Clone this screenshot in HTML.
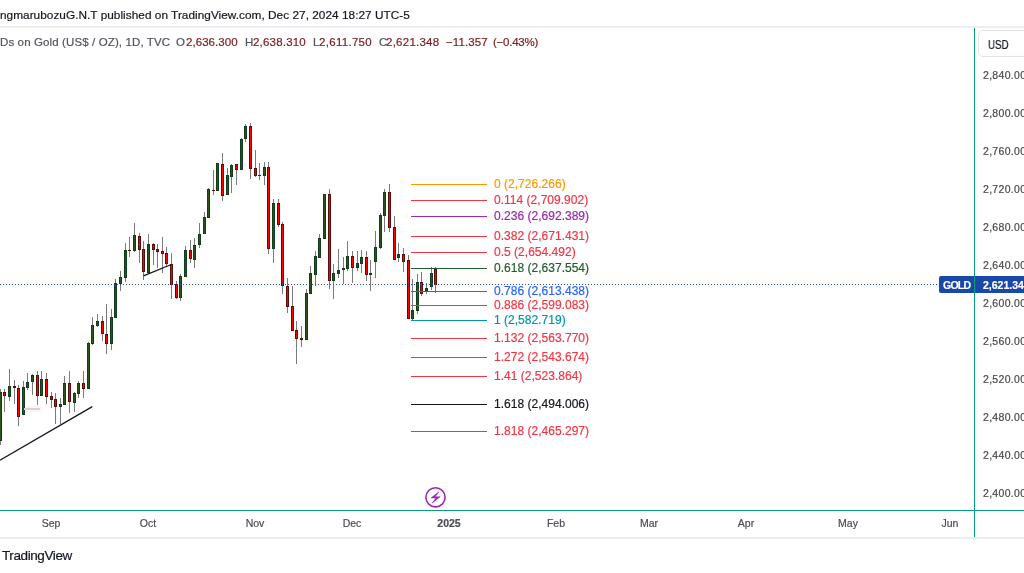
<!DOCTYPE html>
<html><head><meta charset="utf-8">
<style>
html,body{margin:0;padding:0;background:#fff;}
body{width:1024px;height:573px;overflow:hidden;position:relative;font-family:"Liberation Sans",sans-serif;}
.t{position:absolute;white-space:nowrap;line-height:1;}
.t,.ax,.tm,.fl{will-change:transform;-webkit-text-stroke:0.2px currentColor;}
#hdr{left:0px;top:9.5px;font-size:11.8px;color:#131722;letter-spacing:0.035px;}
.lg{top:36.6px;font-size:11.5px;color:#50535e;}
.lg.v{color:#7a1b1b;}
.ax{position:absolute;left:983px;font-size:10.5px;color:#4a4a4a;line-height:1;letter-spacing:0.3px;}
.tm{position:absolute;top:518px;font-size:10.5px;color:#4a4d57;line-height:1;transform:translateX(-50%);}
.fl{position:absolute;left:494.3px;font-size:12px;letter-spacing:0.02px;line-height:1;white-space:nowrap;}
#usd{position:absolute;left:978px;top:30px;width:60px;height:27px;border:1px solid #e0e3eb;border-radius:5px;box-sizing:border-box;}
#usdt{left:987.5px;top:39px;font-size:12.2px;color:#131722;transform:scaleX(0.8);transform-origin:0 0;}
#gold{position:absolute;left:939px;top:276px;width:100px;height:17px;background:#1848a8;border-radius:2px;}
#goldt{left:943px;top:280px;font-size:10.5px;font-weight:bold;color:#fff;letter-spacing:-0.75px;}
#goldp{left:983px;top:280px;font-size:10.5px;font-weight:bold;color:#fff;}
#tv{left:2px;top:549px;font-size:13.5px;color:#131722;letter-spacing:-0.4px;}
</style></head><body>
<div class="t" id="hdr">ngmarubozuG.N.T published on TradingView.com, Dec 27, 2024 18:27 UTC-5</div>
<div class="t lg" style="left:0px;letter-spacing:0.12px">Ds on Gold (US$ / OZ), 1D, TVC</div>
<div class="t lg" style="left:176px">O</div>
<div class="t lg v" style="left:185.5px;letter-spacing:0.05px">2,636.300</div>
<div class="t lg" style="left:245px">H</div>
<div class="t lg v" style="left:253px;letter-spacing:0.2px">2,638.310</div>
<div class="t lg" style="left:313px">L</div>
<div class="t lg v" style="left:319px;letter-spacing:0.3px">2,611.750</div>
<div class="t lg" style="left:379px">C</div>
<div class="t lg v" style="left:385.5px;letter-spacing:0.25px">2,621.348</div>
<div class="t lg v" style="left:446.3px;letter-spacing:0.1px">−11.357</div>
<div class="t lg v" style="left:492.5px;letter-spacing:-0.25px">(−0.43%)</div>
<svg width="1024" height="573" style="position:absolute;left:0;top:0" shape-rendering="crispEdges">
<rect x="0" y="26" width="1024" height="2" fill="#edeef3"/>
<rect x="0" y="537" width="1024" height="2" fill="#edeef3"/>
<rect x="974" y="28" width="1" height="509" fill="#089981"/>
<rect x="0" y="510" width="1024" height="1" fill="#089981"/>
<!-- CANDLES -->
<rect x="0" y="389" width="1" height="56" fill="#7b7b7b"/>
<rect x="-1" y="392" width="3" height="49" fill="#123d1c"/>
<rect x="0" y="393" width="1" height="47" fill="#2a5418"/>
<rect x="4" y="389" width="1" height="23" fill="#7b7b7b"/>
<rect x="3" y="392" width="3" height="4" fill="#5d0b0b"/>
<rect x="4" y="393" width="1" height="2" fill="#ff0000"/>
<rect x="9" y="369" width="1" height="32" fill="#7b7b7b"/>
<rect x="8" y="386" width="3" height="11" fill="#123d1c"/>
<rect x="9" y="387" width="1" height="9" fill="#2a5418"/>
<rect x="14" y="380" width="1" height="24" fill="#7b7b7b"/>
<rect x="13" y="386" width="3" height="2" fill="#5d0b0b"/>
<rect x="18" y="385" width="1" height="41" fill="#7b7b7b"/>
<rect x="17" y="388" width="3" height="29" fill="#5d0b0b"/>
<rect x="18" y="389" width="1" height="27" fill="#ff0000"/>
<rect x="23" y="381" width="1" height="34" fill="#7b7b7b"/>
<rect x="22" y="387" width="3" height="28" fill="#123d1c"/>
<rect x="23" y="388" width="1" height="26" fill="#2a5418"/>
<rect x="27" y="373" width="1" height="17" fill="#7b7b7b"/>
<rect x="26" y="382" width="3" height="6" fill="#123d1c"/>
<rect x="27" y="383" width="1" height="4" fill="#2a5418"/>
<rect x="32" y="374" width="1" height="21" fill="#7b7b7b"/>
<rect x="31" y="375" width="3" height="7" fill="#123d1c"/>
<rect x="32" y="376" width="1" height="5" fill="#2a5418"/>
<rect x="37" y="371" width="1" height="34" fill="#7b7b7b"/>
<rect x="36" y="375" width="3" height="21" fill="#5d0b0b"/>
<rect x="37" y="376" width="1" height="19" fill="#ff0000"/>
<rect x="41" y="371" width="1" height="25" fill="#7b7b7b"/>
<rect x="40" y="379" width="3" height="17" fill="#123d1c"/>
<rect x="41" y="380" width="1" height="15" fill="#2a5418"/>
<rect x="46" y="373" width="1" height="31" fill="#7b7b7b"/>
<rect x="45" y="379" width="3" height="18" fill="#5d0b0b"/>
<rect x="46" y="380" width="1" height="16" fill="#ff0000"/>
<rect x="51" y="392" width="1" height="16" fill="#7b7b7b"/>
<rect x="50" y="396" width="3" height="4" fill="#5d0b0b"/>
<rect x="51" y="397" width="1" height="2" fill="#ff0000"/>
<rect x="55" y="393" width="1" height="31" fill="#7b7b7b"/>
<rect x="54" y="399" width="3" height="8" fill="#5d0b0b"/>
<rect x="55" y="400" width="1" height="6" fill="#ff0000"/>
<rect x="60" y="398" width="1" height="26" fill="#7b7b7b"/>
<rect x="59" y="404" width="3" height="3" fill="#123d1c"/>
<rect x="60" y="405" width="1" height="1" fill="#2a5418"/>
<rect x="64" y="376" width="1" height="29" fill="#7b7b7b"/>
<rect x="63" y="383" width="3" height="22" fill="#123d1c"/>
<rect x="64" y="384" width="1" height="20" fill="#2a5418"/>
<rect x="69" y="371" width="1" height="42" fill="#7b7b7b"/>
<rect x="68" y="383" width="3" height="19" fill="#5d0b0b"/>
<rect x="69" y="384" width="1" height="17" fill="#ff0000"/>
<rect x="74" y="392" width="1" height="20" fill="#7b7b7b"/>
<rect x="73" y="393" width="3" height="10" fill="#123d1c"/>
<rect x="74" y="394" width="1" height="8" fill="#2a5418"/>
<rect x="78" y="381" width="1" height="17" fill="#7b7b7b"/>
<rect x="77" y="383" width="3" height="11" fill="#123d1c"/>
<rect x="78" y="384" width="1" height="9" fill="#2a5418"/>
<rect x="83" y="371" width="1" height="27" fill="#7b7b7b"/>
<rect x="82" y="383" width="3" height="6" fill="#5d0b0b"/>
<rect x="83" y="384" width="1" height="4" fill="#ff0000"/>
<rect x="88" y="342" width="1" height="47" fill="#7b7b7b"/>
<rect x="87" y="343" width="3" height="46" fill="#123d1c"/>
<rect x="88" y="344" width="1" height="44" fill="#2a5418"/>
<rect x="92" y="317" width="1" height="28" fill="#7b7b7b"/>
<rect x="91" y="325" width="3" height="19" fill="#123d1c"/>
<rect x="92" y="326" width="1" height="17" fill="#2a5418"/>
<rect x="97" y="314" width="1" height="13" fill="#7b7b7b"/>
<rect x="96" y="321" width="3" height="5" fill="#123d1c"/>
<rect x="97" y="322" width="1" height="3" fill="#2a5418"/>
<rect x="102" y="316" width="1" height="25" fill="#7b7b7b"/>
<rect x="101" y="321" width="3" height="13" fill="#5d0b0b"/>
<rect x="102" y="322" width="1" height="11" fill="#ff0000"/>
<rect x="106" y="304" width="1" height="50" fill="#7b7b7b"/>
<rect x="105" y="334" width="3" height="10" fill="#5d0b0b"/>
<rect x="106" y="335" width="1" height="8" fill="#ff0000"/>
<rect x="111" y="309" width="1" height="41" fill="#7b7b7b"/>
<rect x="110" y="317" width="3" height="27" fill="#123d1c"/>
<rect x="111" y="318" width="1" height="25" fill="#2a5418"/>
<rect x="115" y="279" width="1" height="39" fill="#7b7b7b"/>
<rect x="114" y="283" width="3" height="35" fill="#123d1c"/>
<rect x="115" y="284" width="1" height="33" fill="#2a5418"/>
<rect x="120" y="271" width="1" height="20" fill="#7b7b7b"/>
<rect x="119" y="277" width="3" height="7" fill="#123d1c"/>
<rect x="120" y="278" width="1" height="5" fill="#2a5418"/>
<rect x="125" y="243" width="1" height="39" fill="#7b7b7b"/>
<rect x="124" y="250" width="3" height="28" fill="#123d1c"/>
<rect x="125" y="251" width="1" height="26" fill="#2a5418"/>
<rect x="129" y="237" width="1" height="20" fill="#7b7b7b"/>
<rect x="128" y="250" width="3" height="1" fill="#5d0b0b"/>
<rect x="134" y="223" width="1" height="29" fill="#7b7b7b"/>
<rect x="133" y="235" width="3" height="16" fill="#123d1c"/>
<rect x="134" y="236" width="1" height="14" fill="#2a5418"/>
<rect x="139" y="233" width="1" height="30" fill="#7b7b7b"/>
<rect x="138" y="236" width="3" height="14" fill="#5d0b0b"/>
<rect x="139" y="237" width="1" height="12" fill="#ff0000"/>
<rect x="143" y="241" width="1" height="39" fill="#7b7b7b"/>
<rect x="142" y="249" width="3" height="23" fill="#5d0b0b"/>
<rect x="143" y="250" width="1" height="21" fill="#ff0000"/>
<rect x="148" y="234" width="1" height="39" fill="#7b7b7b"/>
<rect x="147" y="244" width="3" height="29" fill="#123d1c"/>
<rect x="148" y="245" width="1" height="27" fill="#2a5418"/>
<rect x="153" y="243" width="1" height="22" fill="#7b7b7b"/>
<rect x="152" y="244" width="3" height="6" fill="#5d0b0b"/>
<rect x="153" y="245" width="1" height="4" fill="#ff0000"/>
<rect x="157" y="244" width="1" height="24" fill="#7b7b7b"/>
<rect x="156" y="249" width="3" height="3" fill="#5d0b0b"/>
<rect x="157" y="250" width="1" height="1" fill="#ff0000"/>
<rect x="162" y="237" width="1" height="36" fill="#7b7b7b"/>
<rect x="161" y="251" width="3" height="3" fill="#5d0b0b"/>
<rect x="162" y="252" width="1" height="1" fill="#ff0000"/>
<rect x="166" y="247" width="1" height="19" fill="#7b7b7b"/>
<rect x="165" y="253" width="3" height="11" fill="#5d0b0b"/>
<rect x="166" y="254" width="1" height="9" fill="#ff0000"/>
<rect x="171" y="253" width="1" height="46" fill="#7b7b7b"/>
<rect x="170" y="264" width="3" height="21" fill="#5d0b0b"/>
<rect x="171" y="265" width="1" height="19" fill="#ff0000"/>
<rect x="176" y="281" width="1" height="18" fill="#7b7b7b"/>
<rect x="175" y="284" width="3" height="14" fill="#5d0b0b"/>
<rect x="176" y="285" width="1" height="12" fill="#ff0000"/>
<rect x="180" y="274" width="1" height="27" fill="#7b7b7b"/>
<rect x="179" y="276" width="3" height="22" fill="#123d1c"/>
<rect x="180" y="277" width="1" height="20" fill="#2a5418"/>
<rect x="185" y="246" width="1" height="31" fill="#7b7b7b"/>
<rect x="184" y="250" width="3" height="27" fill="#123d1c"/>
<rect x="185" y="251" width="1" height="25" fill="#2a5418"/>
<rect x="190" y="240" width="1" height="23" fill="#7b7b7b"/>
<rect x="189" y="250" width="3" height="9" fill="#5d0b0b"/>
<rect x="190" y="251" width="1" height="7" fill="#ff0000"/>
<rect x="194" y="238" width="1" height="30" fill="#7b7b7b"/>
<rect x="193" y="245" width="3" height="15" fill="#123d1c"/>
<rect x="194" y="246" width="1" height="13" fill="#2a5418"/>
<rect x="199" y="223" width="1" height="25" fill="#7b7b7b"/>
<rect x="198" y="234" width="3" height="11" fill="#123d1c"/>
<rect x="199" y="235" width="1" height="9" fill="#2a5418"/>
<rect x="204" y="212" width="1" height="22" fill="#7b7b7b"/>
<rect x="203" y="217" width="3" height="17" fill="#123d1c"/>
<rect x="204" y="218" width="1" height="15" fill="#2a5418"/>
<rect x="208" y="188" width="1" height="30" fill="#7b7b7b"/>
<rect x="207" y="189" width="3" height="29" fill="#123d1c"/>
<rect x="208" y="190" width="1" height="27" fill="#2a5418"/>
<rect x="213" y="170" width="1" height="25" fill="#7b7b7b"/>
<rect x="212" y="190" width="3" height="1" fill="#5d0b0b"/>
<rect x="217" y="163" width="1" height="28" fill="#7b7b7b"/>
<rect x="216" y="163" width="3" height="28" fill="#123d1c"/>
<rect x="217" y="164" width="1" height="26" fill="#2a5418"/>
<rect x="222" y="153" width="1" height="48" fill="#7b7b7b"/>
<rect x="221" y="164" width="3" height="32" fill="#5d0b0b"/>
<rect x="222" y="165" width="1" height="30" fill="#ff0000"/>
<rect x="227" y="168" width="1" height="27" fill="#7b7b7b"/>
<rect x="226" y="175" width="3" height="20" fill="#123d1c"/>
<rect x="227" y="176" width="1" height="18" fill="#2a5418"/>
<rect x="231" y="164" width="1" height="29" fill="#7b7b7b"/>
<rect x="230" y="165" width="3" height="12" fill="#123d1c"/>
<rect x="231" y="166" width="1" height="10" fill="#2a5418"/>
<rect x="236" y="164" width="1" height="21" fill="#7b7b7b"/>
<rect x="235" y="164" width="3" height="6" fill="#5d0b0b"/>
<rect x="236" y="165" width="1" height="4" fill="#ff0000"/>
<rect x="241" y="138" width="1" height="32" fill="#7b7b7b"/>
<rect x="240" y="139" width="3" height="31" fill="#123d1c"/>
<rect x="241" y="140" width="1" height="29" fill="#2a5418"/>
<rect x="245" y="124" width="1" height="18" fill="#7b7b7b"/>
<rect x="244" y="126" width="3" height="13" fill="#123d1c"/>
<rect x="245" y="127" width="1" height="11" fill="#2a5418"/>
<rect x="250" y="123" width="1" height="56" fill="#7b7b7b"/>
<rect x="249" y="126" width="3" height="43" fill="#5d0b0b"/>
<rect x="250" y="127" width="1" height="41" fill="#ff0000"/>
<rect x="255" y="150" width="1" height="27" fill="#7b7b7b"/>
<rect x="254" y="168" width="3" height="8" fill="#5d0b0b"/>
<rect x="255" y="169" width="1" height="6" fill="#ff0000"/>
<rect x="259" y="163" width="1" height="17" fill="#7b7b7b"/>
<rect x="258" y="175" width="3" height="1" fill="#5d0b0b"/>
<rect x="264" y="162" width="1" height="23" fill="#7b7b7b"/>
<rect x="263" y="167" width="3" height="9" fill="#123d1c"/>
<rect x="264" y="168" width="1" height="7" fill="#2a5418"/>
<rect x="268" y="162" width="1" height="92" fill="#7b7b7b"/>
<rect x="267" y="167" width="3" height="82" fill="#5d0b0b"/>
<rect x="268" y="168" width="1" height="80" fill="#ff0000"/>
<rect x="273" y="199" width="1" height="64" fill="#7b7b7b"/>
<rect x="272" y="203" width="3" height="46" fill="#123d1c"/>
<rect x="273" y="204" width="1" height="44" fill="#2a5418"/>
<rect x="278" y="199" width="1" height="28" fill="#7b7b7b"/>
<rect x="277" y="203" width="3" height="22" fill="#5d0b0b"/>
<rect x="278" y="204" width="1" height="20" fill="#ff0000"/>
<rect x="282" y="222" width="1" height="72" fill="#7b7b7b"/>
<rect x="281" y="224" width="3" height="62" fill="#5d0b0b"/>
<rect x="282" y="225" width="1" height="60" fill="#ff0000"/>
<rect x="287" y="278" width="1" height="35" fill="#7b7b7b"/>
<rect x="286" y="286" width="3" height="21" fill="#5d0b0b"/>
<rect x="287" y="287" width="1" height="19" fill="#ff0000"/>
<rect x="292" y="286" width="1" height="45" fill="#7b7b7b"/>
<rect x="291" y="306" width="3" height="25" fill="#5d0b0b"/>
<rect x="292" y="307" width="1" height="23" fill="#ff0000"/>
<rect x="296" y="321" width="1" height="43" fill="#7b7b7b"/>
<rect x="295" y="330" width="3" height="9" fill="#5d0b0b"/>
<rect x="296" y="331" width="1" height="7" fill="#ff0000"/>
<rect x="301" y="326" width="1" height="21" fill="#7b7b7b"/>
<rect x="300" y="338" width="3" height="2" fill="#5d0b0b"/>
<rect x="306" y="289" width="1" height="51" fill="#7b7b7b"/>
<rect x="305" y="293" width="3" height="47" fill="#123d1c"/>
<rect x="306" y="294" width="1" height="45" fill="#2a5418"/>
<rect x="310" y="266" width="1" height="28" fill="#7b7b7b"/>
<rect x="309" y="273" width="3" height="21" fill="#123d1c"/>
<rect x="310" y="274" width="1" height="19" fill="#2a5418"/>
<rect x="315" y="251" width="1" height="35" fill="#7b7b7b"/>
<rect x="314" y="256" width="3" height="19" fill="#123d1c"/>
<rect x="315" y="257" width="1" height="17" fill="#2a5418"/>
<rect x="319" y="234" width="1" height="24" fill="#7b7b7b"/>
<rect x="318" y="238" width="3" height="20" fill="#123d1c"/>
<rect x="319" y="239" width="1" height="18" fill="#2a5418"/>
<rect x="324" y="194" width="1" height="45" fill="#7b7b7b"/>
<rect x="323" y="194" width="3" height="45" fill="#123d1c"/>
<rect x="324" y="195" width="1" height="43" fill="#2a5418"/>
<rect x="329" y="189" width="1" height="100" fill="#7b7b7b"/>
<rect x="328" y="194" width="3" height="87" fill="#5d0b0b"/>
<rect x="329" y="195" width="1" height="85" fill="#ff0000"/>
<rect x="333" y="264" width="1" height="35" fill="#7b7b7b"/>
<rect x="332" y="273" width="3" height="8" fill="#123d1c"/>
<rect x="333" y="274" width="1" height="6" fill="#2a5418"/>
<rect x="338" y="249" width="1" height="29" fill="#7b7b7b"/>
<rect x="337" y="270" width="3" height="4" fill="#123d1c"/>
<rect x="338" y="271" width="1" height="2" fill="#2a5418"/>
<rect x="343" y="257" width="1" height="27" fill="#7b7b7b"/>
<rect x="342" y="268" width="3" height="2" fill="#123d1c"/>
<rect x="347" y="241" width="1" height="30" fill="#7b7b7b"/>
<rect x="346" y="256" width="3" height="13" fill="#123d1c"/>
<rect x="347" y="257" width="1" height="11" fill="#2a5418"/>
<rect x="352" y="251" width="1" height="32" fill="#7b7b7b"/>
<rect x="351" y="256" width="3" height="12" fill="#5d0b0b"/>
<rect x="352" y="257" width="1" height="10" fill="#ff0000"/>
<rect x="357" y="251" width="1" height="20" fill="#7b7b7b"/>
<rect x="356" y="263" width="3" height="5" fill="#123d1c"/>
<rect x="357" y="264" width="1" height="3" fill="#2a5418"/>
<rect x="361" y="250" width="1" height="23" fill="#7b7b7b"/>
<rect x="360" y="257" width="3" height="7" fill="#123d1c"/>
<rect x="361" y="258" width="1" height="5" fill="#2a5418"/>
<rect x="366" y="251" width="1" height="30" fill="#7b7b7b"/>
<rect x="365" y="257" width="3" height="18" fill="#5d0b0b"/>
<rect x="366" y="258" width="1" height="16" fill="#ff0000"/>
<rect x="370" y="260" width="1" height="31" fill="#7b7b7b"/>
<rect x="369" y="273" width="3" height="2" fill="#123d1c"/>
<rect x="375" y="231" width="1" height="47" fill="#7b7b7b"/>
<rect x="374" y="247" width="3" height="15" fill="#123d1c"/>
<rect x="375" y="248" width="1" height="13" fill="#2a5418"/>
<rect x="380" y="213" width="1" height="36" fill="#7b7b7b"/>
<rect x="379" y="215" width="3" height="33" fill="#123d1c"/>
<rect x="380" y="216" width="1" height="31" fill="#2a5418"/>
<rect x="384" y="189" width="1" height="43" fill="#7b7b7b"/>
<rect x="383" y="192" width="3" height="24" fill="#123d1c"/>
<rect x="384" y="193" width="1" height="22" fill="#2a5418"/>
<rect x="389" y="184" width="1" height="48" fill="#7b7b7b"/>
<rect x="388" y="192" width="3" height="36" fill="#5d0b0b"/>
<rect x="389" y="193" width="1" height="34" fill="#ff0000"/>
<rect x="394" y="216" width="1" height="44" fill="#7b7b7b"/>
<rect x="393" y="227" width="3" height="33" fill="#5d0b0b"/>
<rect x="394" y="228" width="1" height="31" fill="#ff0000"/>
<rect x="398" y="243" width="1" height="19" fill="#7b7b7b"/>
<rect x="397" y="254" width="3" height="4" fill="#123d1c"/>
<rect x="398" y="255" width="1" height="2" fill="#2a5418"/>
<rect x="403" y="248" width="1" height="24" fill="#7b7b7b"/>
<rect x="402" y="254" width="3" height="8" fill="#5d0b0b"/>
<rect x="403" y="255" width="1" height="6" fill="#ff0000"/>
<rect x="408" y="255" width="1" height="64" fill="#7b7b7b"/>
<rect x="407" y="260" width="3" height="59" fill="#5d0b0b"/>
<rect x="408" y="261" width="1" height="57" fill="#ff0000"/>
<rect x="412" y="279" width="1" height="41" fill="#7b7b7b"/>
<rect x="411" y="310" width="3" height="9" fill="#123d1c"/>
<rect x="412" y="311" width="1" height="7" fill="#2a5418"/>
<rect x="417" y="274" width="1" height="40" fill="#7b7b7b"/>
<rect x="416" y="282" width="3" height="29" fill="#123d1c"/>
<rect x="417" y="283" width="1" height="27" fill="#2a5418"/>
<rect x="421" y="272" width="1" height="24" fill="#7b7b7b"/>
<rect x="420" y="282" width="3" height="12" fill="#5d0b0b"/>
<rect x="421" y="283" width="1" height="10" fill="#ff0000"/>
<rect x="426" y="283" width="1" height="11" fill="#7b7b7b"/>
<rect x="425" y="288" width="3" height="3" fill="#123d1c"/>
<rect x="426" y="289" width="1" height="1" fill="#2a5418"/>
<rect x="431" y="267" width="1" height="23" fill="#7b7b7b"/>
<rect x="430" y="273" width="3" height="14" fill="#123d1c"/>
<rect x="431" y="274" width="1" height="12" fill="#2a5418"/>
<rect x="435" y="267" width="1" height="26" fill="#7b7b7b"/>
<rect x="434" y="269" width="3" height="16" fill="#5d0b0b"/>
<rect x="435" y="270" width="1" height="14" fill="#ff0000"/>
<!-- misc drawing -->
<rect x="26" y="406" width="16" height="6" fill="#fff3f5"/>
<rect x="24" y="408" width="16" height="2" fill="#d1d4dc"/>
<!-- fib lines -->
<rect x="411" y="184" width="76" height="1" fill="#ff9800"/>
<rect x="411" y="200" width="76" height="1" fill="#f23645"/>
<rect x="411" y="216" width="76" height="1" fill="#9c27b0"/>
<rect x="411" y="236" width="76" height="1" fill="#f23645"/>
<rect x="411" y="252" width="76" height="1" fill="#f23645"/>
<rect x="411" y="268" width="76" height="1" fill="#1e5e2a"/>
<rect x="411" y="291" width="76" height="1" fill="#2962ff"/>
<rect x="411" y="305" width="76" height="1" fill="#f23645"/>
<rect x="411" y="320" width="76" height="1" fill="#0097a7"/>
<rect x="411" y="338" width="76" height="1" fill="#f23645"/>
<rect x="411" y="357" width="76" height="1" fill="#f23645"/>
<rect x="411" y="376" width="76" height="1" fill="#f23645"/>
<rect x="411" y="404" width="76" height="1" fill="#131722"/>
<rect x="411" y="431" width="76" height="1" fill="#f23645"/>
<line x1="0" y1="284.5" x2="939" y2="284.5" stroke="#1c4fd6" stroke-width="1" stroke-dasharray="1 2"/>
<g shape-rendering="geometricPrecision">
<line x1="0" y1="460.3" x2="92.3" y2="406.6" stroke="#131722" stroke-width="1.3"/>
<line x1="143.4" y1="275.9" x2="171.4" y2="264.5" stroke="#131722" stroke-width="1.3"/>
<circle cx="435.5" cy="497.3" r="9.6" fill="#fff" stroke="#9c27b0" stroke-width="1.6"/>
<path d="M439 491.8 L430.8 498 L435.8 498 L432 503.2 L440.2 496.8 L435.2 496.8 Z" fill="#9c27b0" stroke="#9c27b0" stroke-width="0.5" stroke-linejoin="round"/>
</g>
</svg>
<div id="usd"></div>
<div class="t" id="usdt">USD</div>
<div id="gold"></div>
<svg width="1024" height="573" style="position:absolute;left:0;top:0" shape-rendering="crispEdges"><rect x="974" y="276" width="1" height="17" fill="#089981"/></svg>
<div class="t" id="goldt">GOLD</div>
<div class="t" id="goldp">2,621.348</div>
<div class="ax" style="top:70px">2,840.000</div>
<div class="ax" style="top:108px">2,800.000</div>
<div class="ax" style="top:146px">2,760.000</div>
<div class="ax" style="top:184px">2,720.000</div>
<div class="ax" style="top:222px">2,680.000</div>
<div class="ax" style="top:260px">2,640.000</div>
<div class="ax" style="top:298px">2,600.000</div>
<div class="ax" style="top:336px">2,560.000</div>
<div class="ax" style="top:374px">2,520.000</div>
<div class="ax" style="top:412px">2,480.000</div>
<div class="ax" style="top:450px">2,440.000</div>
<div class="ax" style="top:488px">2,400.000</div>
<div class="tm" style="left:50.5px">Sep</div>
<div class="tm" style="left:148px">Oct</div>
<div class="tm" style="left:255px">Nov</div>
<div class="tm" style="left:352px">Dec</div>
<div class="tm" style="left:449px;font-weight:bold">2025</div>
<div class="tm" style="left:556px">Feb</div>
<div class="tm" style="left:649px">Mar</div>
<div class="tm" style="left:746px">Apr</div>
<div class="tm" style="left:848px">May</div>
<div class="tm" style="left:950px">Jun</div>
<div class="fl" style="top:178px;color:#ff9800">0 (2,726.266)</div>
<div class="fl" style="top:194px;color:#f23645">0.114 (2,709.902)</div>
<div class="fl" style="top:210px;color:#9c27b0">0.236 (2,692.389)</div>
<div class="fl" style="top:230px;color:#f23645">0.382 (2,671.431)</div>
<div class="fl" style="top:246px;color:#f23645">0.5 (2,654.492)</div>
<div class="fl" style="top:262px;color:#1e5e2a">0.618 (2,637.554)</div>
<div class="fl" style="top:285px;color:#2962ff">0.786 (2,613.438)</div>
<div class="fl" style="top:299px;color:#f23645">0.886 (2,599.083)</div>
<div class="fl" style="top:314px;color:#0097a7">1 (2,582.719)</div>
<div class="fl" style="top:332px;color:#f23645">1.132 (2,563.770)</div>
<div class="fl" style="top:351px;color:#f23645">1.272 (2,543.674)</div>
<div class="fl" style="top:370px;color:#f23645">1.41 (2,523.864)</div>
<div class="fl" style="top:398px;color:#131722">1.618 (2,494.006)</div>
<div class="fl" style="top:425px;color:#f23645">1.818 (2,465.297)</div>
<div class="t" id="tv">TradingView</div>
</body></html>
